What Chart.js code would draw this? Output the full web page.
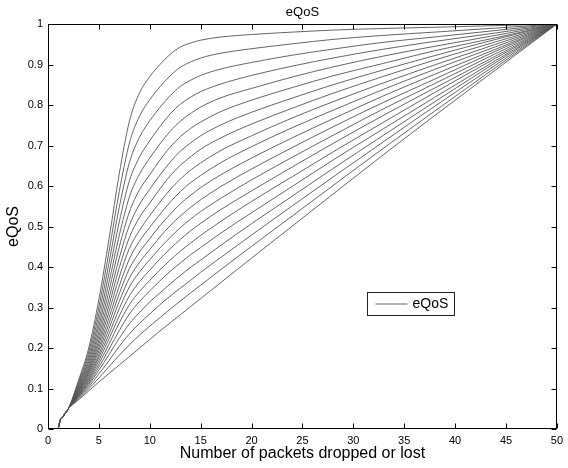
<!DOCTYPE html>
<html><head><meta charset="utf-8">
<script src="https://cdn.jsdelivr.net/npm/chart.js@4"></script>
<style>html,body{margin:0;padding:0;background:#fff}#wrap{width:568px;height:468px;position:relative}</style>
</head><body><div id="wrap"><canvas id="c" width="568" height="468"></canvas></div>
<script>
// x positions (number of packets dropped or lost)
const packets = [1, 1.2, 1.5, 2, 3, 4, 5, 6, 7, 8, 9, 10, 11, 12, 13, 14, 15, 17, 20, 24, 28, 33, 38, 44, 50];
// eQoS curves, from the steepest (top) to the straightest (bottom)
const curve01 = [0, 0.022, 0.032, 0.05, 0.120, 0.200, 0.320, 0.470, 0.630, 0.760, 0.830, 0.870, 0.900, 0.925, 0.943, 0.953, 0.960, 0.968, 0.974, 0.980, 0.985, 0.989, 0.992, 0.996, 1];
const curve02 = [0, 0.022, 0.032, 0.05, 0.116, 0.190, 0.301, 0.439, 0.586, 0.706, 0.773, 0.813, 0.845, 0.872, 0.893, 0.906, 0.916, 0.928, 0.939, 0.951, 0.962, 0.972, 0.980, 0.990, 1];
const curve03 = [0, 0.022, 0.032, 0.05, 0.112, 0.181, 0.284, 0.411, 0.547, 0.658, 0.721, 0.761, 0.794, 0.823, 0.846, 0.861, 0.873, 0.889, 0.905, 0.923, 0.938, 0.955, 0.968, 0.984, 1];
const curve04 = [0, 0.022, 0.032, 0.05, 0.108, 0.173, 0.268, 0.386, 0.511, 0.613, 0.672, 0.712, 0.747, 0.778, 0.802, 0.819, 0.833, 0.852, 0.873, 0.896, 0.916, 0.938, 0.957, 0.978, 1];
const curve05 = [0, 0.022, 0.032, 0.05, 0.105, 0.166, 0.254, 0.363, 0.478, 0.573, 0.630, 0.669, 0.704, 0.735, 0.760, 0.779, 0.795, 0.818, 0.841, 0.869, 0.894, 0.921, 0.945, 0.972, 1];
const curve06 = [0, 0.022, 0.032, 0.05, 0.102, 0.159, 0.241, 0.342, 0.449, 0.536, 0.591, 0.628, 0.664, 0.696, 0.722, 0.742, 0.758, 0.784, 0.812, 0.843, 0.872, 0.903, 0.934, 0.966, 1];
const curve07 = [0, 0.022, 0.032, 0.05, 0.099, 0.153, 0.230, 0.323, 0.422, 0.503, 0.555, 0.592, 0.627, 0.659, 0.686, 0.706, 0.724, 0.751, 0.782, 0.817, 0.850, 0.887, 0.922, 0.962, 1];
const curve08 = [0, 0.022, 0.032, 0.05, 0.096, 0.148, 0.219, 0.306, 0.398, 0.473, 0.523, 0.558, 0.593, 0.625, 0.651, 0.672, 0.691, 0.719, 0.753, 0.792, 0.829, 0.871, 0.911, 0.956, 1];
const curve09 = [0, 0.022, 0.032, 0.05, 0.094, 0.143, 0.210, 0.290, 0.375, 0.446, 0.491, 0.527, 0.560, 0.591, 0.617, 0.639, 0.657, 0.688, 0.724, 0.768, 0.808, 0.855, 0.899, 0.950, 1];
const curve10 = [0, 0.022, 0.032, 0.05, 0.092, 0.138, 0.201, 0.275, 0.353, 0.420, 0.464, 0.498, 0.530, 0.560, 0.586, 0.608, 0.626, 0.658, 0.697, 0.744, 0.787, 0.839, 0.888, 0.944, 1];
const curve11 = [0, 0.022, 0.032, 0.05, 0.090, 0.134, 0.193, 0.261, 0.334, 0.396, 0.437, 0.470, 0.502, 0.530, 0.556, 0.577, 0.596, 0.628, 0.669, 0.719, 0.766, 0.823, 0.876, 0.938, 1];
const curve12 = [0, 0.022, 0.032, 0.05, 0.088, 0.129, 0.184, 0.248, 0.315, 0.373, 0.412, 0.443, 0.474, 0.502, 0.526, 0.547, 0.566, 0.599, 0.642, 0.695, 0.746, 0.807, 0.864, 0.933, 1];
const curve13 = [0, 0.022, 0.032, 0.05, 0.086, 0.125, 0.177, 0.235, 0.297, 0.351, 0.388, 0.418, 0.447, 0.473, 0.497, 0.518, 0.537, 0.570, 0.615, 0.671, 0.725, 0.791, 0.853, 0.927, 1];
const curve14 = [0, 0.022, 0.032, 0.05, 0.084, 0.121, 0.169, 0.223, 0.279, 0.329, 0.364, 0.392, 0.420, 0.445, 0.468, 0.489, 0.508, 0.542, 0.588, 0.647, 0.705, 0.775, 0.842, 0.921, 1];
const curve15 = [0, 0.022, 0.032, 0.05, 0.083, 0.117, 0.161, 0.210, 0.262, 0.307, 0.340, 0.367, 0.393, 0.417, 0.439, 0.459, 0.478, 0.513, 0.562, 0.623, 0.684, 0.758, 0.831, 0.916, 1];
const curve16 = [0, 0.022, 0.032, 0.05, 0.081, 0.113, 0.153, 0.197, 0.243, 0.284, 0.315, 0.341, 0.366, 0.389, 0.410, 0.430, 0.448, 0.484, 0.534, 0.599, 0.664, 0.742, 0.819, 0.910, 1];
const curve17 = [0, 0.022, 0.032, 0.05, 0.079, 0.109, 0.145, 0.184, 0.224, 0.260, 0.288, 0.314, 0.336, 0.358, 0.379, 0.399, 0.417, 0.454, 0.507, 0.575, 0.643, 0.726, 0.808, 0.905, 1];
const curve18 = [0, 0.022, 0.032, 0.05, 0.077, 0.104, 0.136, 0.169, 0.204, 0.235, 0.261, 0.284, 0.307, 0.328, 0.348, 0.367, 0.387, 0.424, 0.479, 0.551, 0.622, 0.710, 0.797, 0.899, 1];
const curve19 = [0, 0.022, 0.032, 0.05, 0.074, 0.099, 0.126, 0.154, 0.182, 0.208, 0.232, 0.254, 0.275, 0.296, 0.316, 0.336, 0.355, 0.394, 0.451, 0.526, 0.601, 0.694, 0.785, 0.893, 1];
const curve20 = [0, 0.022, 0.032, 0.05, 0.072, 0.094, 0.116, 0.137, 0.158, 0.179, 0.200, 0.221, 0.242, 0.262, 0.282, 0.302, 0.322, 0.362, 0.422, 0.501, 0.580, 0.678, 0.774, 0.887, 1];

const xTickValues = [0, 5, 10, 15, 20, 25, 30, 35, 40, 45, 50];
const xTickLabels = ['0', '5', '10', '15', '20', '25', '30', '35', '40', '45', '50'];
const yTickValues = [0, 0.1, 0.2, 0.3, 0.4, 0.5, 0.6, 0.7, 0.8, 0.9, 1];
const yTickLabels = ['0', '0.1', '0.2', '0.3', '0.4', '0.5', '0.6', '0.7', '0.8', '0.9', '1'];
const chartTitle = 'eQoS';
const xAxisTitle = 'Number of packets dropped or lost';
const yAxisTitle = 'eQoS';
const legendLabel = 'eQoS';

const curves = [curve01, curve02, curve03, curve04, curve05, curve06, curve07, curve08, curve09, curve10,
  curve11, curve12, curve13, curve14, curve15, curve16, curve17, curve18, curve19, curve20];

const FONT = '"Liberation Sans", Arial, Helvetica, sans-serif';
const LINE_COLOR = '#555555';

const datasets = curves.map((vals, i) => ({
  label: i === 0 ? legendLabel : legendLabel + ' ' + (i + 1),
  data: packets.map((p, j) => ({ x: p, y: vals[j] })),
  borderColor: LINE_COLOR,
  borderWidth: 0.9,
  pointRadius: 0,
  fill: false,
  cubicInterpolationMode: 'monotone'
}));

const frame = {
  id: 'frame',
  afterDatasetsDraw(chart) {
    const { ctx, chartArea: a, scales: { x, y } } = chart;
    ctx.save();
    ctx.strokeStyle = '#000';
    ctx.lineWidth = 1;
    const L = Math.round(a.left) + 0.5, R = Math.round(a.right) - 0.5;
    const T = Math.round(a.top) + 0.5, B = Math.round(a.bottom) - 0.5;
    ctx.beginPath();
    ctx.rect(L, T, R - L, B - T);
    const tl = 5;
    xTickValues.forEach(v => {
      const px = Math.round(x.getPixelForValue(v)) + 0.5;
      ctx.moveTo(px, B); ctx.lineTo(px, B - tl);
      ctx.moveTo(px, T); ctx.lineTo(px, T + tl);
    });
    yTickValues.forEach(v => {
      const py = Math.round(y.getPixelForValue(v)) + 0.5;
      ctx.moveTo(L, py); ctx.lineTo(L + tl, py);
      ctx.moveTo(R, py); ctx.lineTo(R - tl, py);
    });
    ctx.stroke();

    // legend box inside the plot
    const bx = 367.5, by = 292.5, bw = 87, bh = 23;
    ctx.fillStyle = '#fff';
    ctx.fillRect(bx, by, bw, bh);
    ctx.strokeStyle = '#222';
    ctx.strokeRect(bx, by, bw, bh);
    ctx.beginPath();
    ctx.strokeStyle = LINE_COLOR;
    ctx.lineWidth = 0.9;
    ctx.moveTo(bx + 8, by + bh / 2);
    ctx.lineTo(bx + 40, by + bh / 2);
    ctx.stroke();
    ctx.fillStyle = '#000';
    ctx.font = '14px ' + FONT;
    ctx.textBaseline = 'middle';
    ctx.textAlign = 'left';
    ctx.fillText(legendLabel, bx + 45, by + bh / 2 + 0.5);
    ctx.restore();
  }
};

new Chart(document.getElementById('c'), {
  type: 'line',
  data: { datasets },
  options: {
    responsive: false,
    animation: false,
    devicePixelRatio: 1,
    layout: { padding: { left: 0, right: 7, top: 0, bottom: 0 } },
    plugins: {
      legend: { display: false },
      tooltip: { enabled: false },
      title: {
        display: true, text: chartTitle, color: '#000', fullSize: false,
        font: { family: FONT, size: 13, weight: 'normal', lineHeight: 1 },
        padding: { top: 5.5, bottom: 5.5 }
      }
    },
    scales: {
      x: {
        type: 'linear', min: 0, max: 50,
        afterFit(s) { s.height = 39; },
        afterBuildTicks(s) { s.ticks = xTickValues.map(v => ({ value: v })); },
        grid: { display: false, drawTicks: false },
        border: { display: false },
        ticks: {
          color: '#000', padding: 5, maxRotation: 0, autoSkip: false,
          font: { family: FONT, size: 11 },
          callback: (v, i) => xTickLabels[i]
        },
        title: {
          display: true, text: xAxisTitle, color: '#000',
          font: { family: FONT, size: 16 }, padding: { top: 0, bottom: 5 }
        }
      },
      y: {
        type: 'linear', min: 0, max: 1,
        afterFit(s) { s.width = 48; },
        afterBuildTicks(s) { s.ticks = yTickValues.map(v => ({ value: v })); },
        grid: { display: false, drawTicks: false },
        border: { display: false },
        ticks: {
          color: '#000', padding: 5, autoSkip: false,
          font: { family: FONT, size: 11 },
          callback: (v, i) => yTickLabels[i]
        },
        title: {
          display: true, text: yAxisTitle, color: '#000',
          font: { family: FONT, size: 16 }, padding: { top: 3.5, bottom: 0 }
        }
      }
    }
  },
  plugins: [frame]
});
</script>
</body></html>
